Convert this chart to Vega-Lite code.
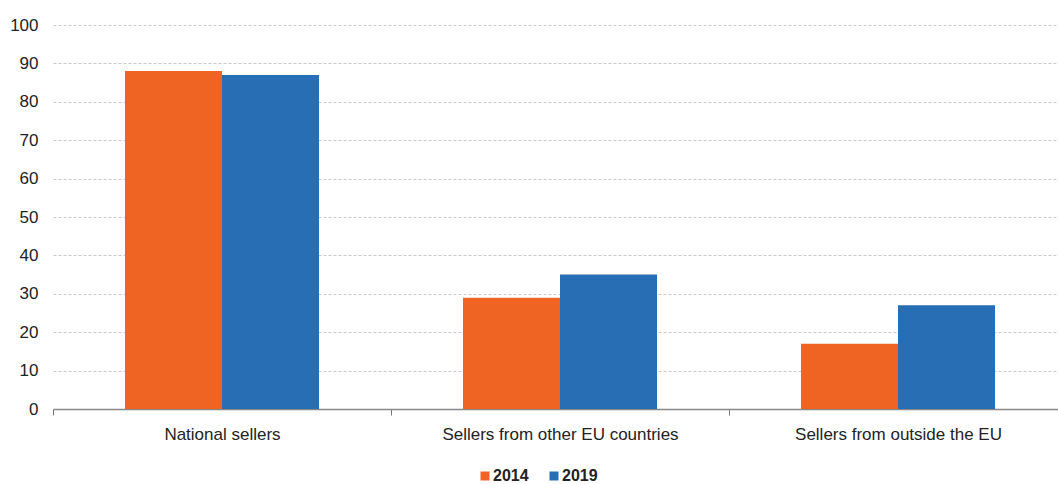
{
  "$schema": "https://vega.github.io/schema/vega-lite/v6.json",
  "width": 1005,
  "height": 384,
  "autosize": {"type": "none"},
  "padding": {"left": 53, "top": 25, "right": 0, "bottom": 75},
  "background": "white",
  "config": {
    "view": {"stroke": null},
    "font": "Liberation Sans"
  },
  "data": {
    "values": [
      {"seller": "National sellers", "year": "2014", "value": 88},
      {"seller": "National sellers", "year": "2019", "value": 87},
      {"seller": "Sellers from other EU countries", "year": "2014", "value": 29},
      {"seller": "Sellers from other EU countries", "year": "2019", "value": 35},
      {"seller": "Sellers from outside the EU", "year": "2014", "value": 17},
      {"seller": "Sellers from outside the EU", "year": "2019", "value": 27}
    ]
  },
  "mark": {"type": "bar"},
  "encoding": {
    "x": {
      "field": "seller",
      "type": "nominal",
      "sort": null,
      "title": null,
      "scale": {"paddingInner": 0, "paddingOuter": 0, "range": [0, 1014]},
      "axis": {
        "labelAngle": 0,
        "labelFontSize": 17,
        "labelLimit": 0,
        "labelColor": "#222222",
        "labelPadding": 11,
        "tickBand": "extent",
        "tickColor": "#777777",
        "tickSize": 6,
        "domainColor": "#888888",
        "domainWidth": 1.5,
        "grid": false
      }
    },
    "xOffset": {
      "field": "year",
      "type": "nominal",
      "scale": {"paddingInner": 0, "paddingOuter": 0.742}
    },
    "y": {
      "field": "value",
      "type": "quantitative",
      "title": null,
      "scale": {"domain": [0, 100], "nice": false},
      "axis": {
        "values": [0, 10, 20, 30, 40, 50, 60, 70, 80, 90, 100],
        "labelFontSize": 17,
        "labelColor": "#222222",
        "labelPadding": 15,
        "domain": false,
        "ticks": false,
        "gridColor": "#c8c8c8",
        "gridDash": [3, 2],
        "gridWidth": 1
      }
    },
    "color": {
      "field": "year",
      "type": "nominal",
      "scale": {"domain": ["2014", "2019"], "range": ["#F06423", "#286EB4"]},
      "legend": {
        "title": null,
        "orient": "none",
        "direction": "horizontal",
        "legendX": 424,
        "legendY": 443,
        "symbolType": "square",
        "symbolSize": 81,
        "symbolStrokeWidth": 0,
        "labelFontSize": 16,
        "labelFontWeight": "bold",
        "labelColor": "#222222",
        "labelOffset": 0,
        "columnPadding": 17
      }
    }
  }
}
